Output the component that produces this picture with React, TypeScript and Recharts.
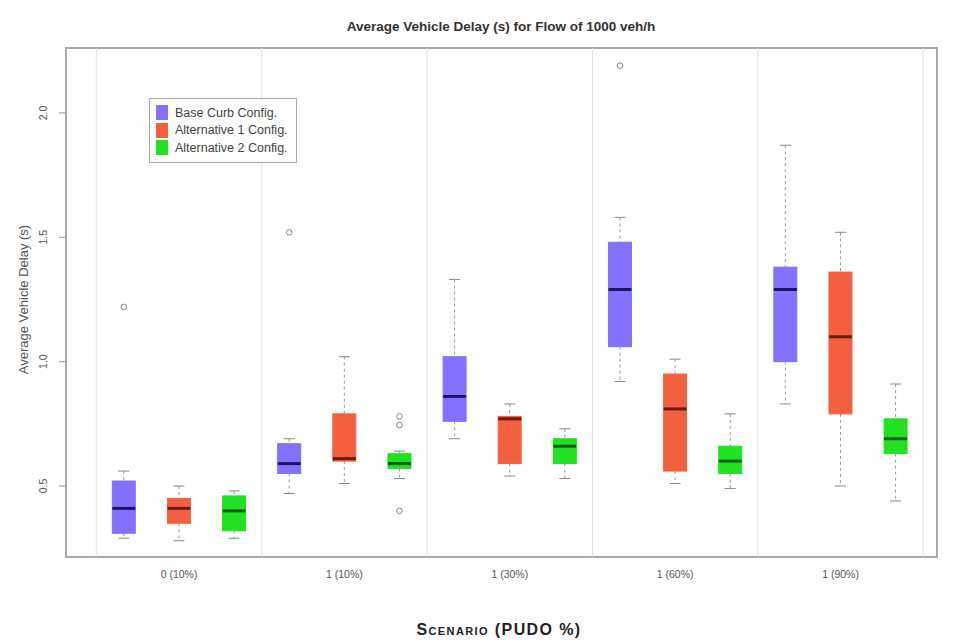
import React from 'react';
import { ComposedChart, Bar, XAxis, YAxis, ReferenceLine, ReferenceArea, Legend } from 'recharts';

const scenarios = ['0 (10%)', '1 (10%)', '1 (30%)', '1 (60%)', '1 (90%)'];
const configs = ['Base Curb Config.', 'Alternative 1 Config.', 'Alternative 2 Config.'];
const fills = ['#8470FF', '#F4603F', '#22E022'];
const medianColors = ['#1B1466', '#6E1A0C', '#0B5A0B'];

// [lower whisker, Q1, median, Q3, upper whisker] per scenario
const baseStats = [
    [0.29, 0.31, 0.41, 0.52, 0.56],
    [0.47, 0.55, 0.59, 0.67, 0.69],
    [0.69, 0.76, 0.86, 1.02, 1.33],
    [0.92, 1.06, 1.29, 1.48, 1.58],
    [0.83, 1.0, 1.29, 1.38, 1.87],
];
const alt1Stats = [
    [0.28, 0.35, 0.41, 0.45, 0.5],
    [0.51, 0.6, 0.61, 0.79, 1.02],
    [0.54, 0.59, 0.77, 0.78, 0.83],
    [0.51, 0.56, 0.81, 0.95, 1.01],
    [0.5, 0.79, 1.1, 1.36, 1.52],
];
const alt2Stats = [
    [0.29, 0.32, 0.4, 0.46, 0.48],
    [0.53, 0.57, 0.59, 0.63, 0.64],
    [0.53, 0.59, 0.66, 0.69, 0.73],
    [0.49, 0.55, 0.6, 0.66, 0.79],
    [0.44, 0.63, 0.69, 0.77, 0.91],
];

const baseOutliers = [[1.22], [1.52], [], [2.19], []];
const alt1Outliers = [[], [], [], [], []];
const alt2Outliers = [[], [0.78, 0.745, 0.4], [], [], []];

const yTicks = [0.5, 1.0, 1.5, 2.0];
const xDomain = [-0.05, 15.75];
const yDomain = [0.2145, 2.261];

const allStats = [baseStats, alt1Stats, alt2Stats];
const allOutliers = [baseOutliers, alt1Outliers, alt2Outliers];

const rows = scenarios.flatMap((s, i) =>
    configs.map((c, j) => {
        const [lo, q1, med, q3, hi] = allStats[j][i];
        return { pos: i * 3 + j + 1, cfg: j, lo, q1, med, q3, hi, out: allOutliers[j][i] };
    })
);

const groupCenters = scenarios.map((_, i) => i * 3 + 2);
const groupEdges = [...scenarios.map((_, i) => i * 3 + 0.5), scenarios.length * 3 + 0.5];

const BoxShape = (props: any) => {
    const { x, y, width, height, payload } = props;
    const top = Math.min(y, y + height);
    const bottom = Math.max(y, y + height);
    const py = (v: number) => bottom - ((v - payload.lo) / (payload.hi - payload.lo)) * (bottom - top);
    const cx = x + width / 2;
    const cap = 5.5;
    return (
        <g>
            <line x1={cx} x2={cx} y1={py(payload.hi)} y2={py(payload.q3)} stroke="#999" strokeDasharray="3 3" />
            <line x1={cx} x2={cx} y1={py(payload.q1)} y2={py(payload.lo)} stroke="#999" strokeDasharray="3 3" />
            <line x1={cx - cap} x2={cx + cap} y1={py(payload.hi)} y2={py(payload.hi)} stroke="#888" />
            <line x1={cx - cap} x2={cx + cap} y1={py(payload.lo)} y2={py(payload.lo)} stroke="#888" />
            <rect
                x={x}
                y={py(payload.q3)}
                width={width}
                height={py(payload.q1) - py(payload.q3)}
                fill={fills[payload.cfg]}
                stroke={fills[payload.cfg]}
            />
            <line x1={x} x2={x + width} y1={py(payload.med)} y2={py(payload.med)} stroke={medianColors[payload.cfg]} strokeWidth={3} />
            {payload.out.map((v: number, k: number) => (
                <circle key={k} cx={cx} cy={py(v)} r={2.8} fill="none" stroke="#888" strokeWidth={1} />
            ))}
        </g>
    );
};

const YTick = (props: any) => {
    const { x, y, payload } = props;
    const tx = x - 14;
    return (
        <text x={tx} y={y} transform={`rotate(-90, ${tx}, ${y})`} textAnchor="middle" dominantBaseline="central" fontSize={10.5} fill="#555" fontFamily="Liberation Sans, Arial, sans-serif">
            {payload.value.toFixed(1)}
        </text>
    );
};

const renderLegend = () => (
    <div style={{ border: '1px solid #aaa', padding: '5px 8px 5px 6px', background: '#fff', fontFamily: 'Liberation Sans, Arial, sans-serif', fontSize: 12.5, color: '#444' }}>
        {configs.map((c, i) => (
            <div key={c} style={{ display: 'flex', alignItems: 'center', height: 17.5 }}>
                <span style={{ width: 12, height: 15, background: fills[i], marginRight: 7, display: 'inline-block' }} />
                {c}
            </div>
        ))}
    </div>
);

export default function App() {
    return (
        <div style={{ position: 'absolute', left: 0, top: 0, width: 957, height: 644, background: '#fff', fontFamily: 'Liberation Sans, Arial, sans-serif' }}>
            <div style={{ position: 'absolute', left: 0, top: 19, width: 1002, textAlign: 'center', fontSize: 13.5, fontWeight: 'bold', color: '#333' }}>
                Average Vehicle Delay (s) for Flow of 1000 veh/h
            </div>
            <div style={{ position: 'absolute', left: 23 - 150, top: 300 - 8, width: 300, textAlign: 'center', fontSize: 13, color: '#555', transform: 'rotate(-90deg)' }}>
                Average Vehicle Delay (s)
            </div>
            <div style={{ position: 'absolute', left: 0, top: 621, width: 998, textAlign: 'center', fontSize: 16, letterSpacing: 1.4, fontWeight: 'bold', fontVariant: 'small-caps', color: '#222' }}>
                Scenario (PUDO %)
            </div>
            <ComposedChart width={957} height={644} data={rows} margin={{ top: 48, right: 20, bottom: 57, left: 26 }} style={{ position: 'absolute', left: 0, top: 0 }}>
                <XAxis
                    dataKey="pos"
                    type="number"
                    domain={xDomain}
                    allowDataOverflow
                    ticks={groupCenters}
                    tickFormatter={(v: number) => scenarios[(v - 2) / 3]}
                    axisLine={false}
                    tickLine={false}
                    tickSize={0}
                    tickMargin={14}
                    height={30}
                    tick={{ fontSize: 10.5, fill: '#555' }}
                />
                <YAxis
                    type="number"
                    domain={yDomain}
                    allowDataOverflow
                    ticks={yTicks}
                    width={40}
                    axisLine={false}
                    tickLine={{ stroke: '#999' }}
                    tickSize={7}
                    tick={<YTick />}
                />
                {groupEdges.map((e) => (
                    <ReferenceLine key={e} x={e} stroke="#e2e2e2" strokeWidth={1} />
                ))}
                <ReferenceArea x1={xDomain[0]} x2={xDomain[1]} y1={yDomain[0]} y2={yDomain[1]} fill="none" stroke="#aaa" strokeWidth={2} ifOverflow="visible" />
                <Bar dataKey={(d: any) => [d.lo, d.hi]} barSize={23} shape={<BoxShape />} isAnimationActive={false} />
                <Legend layout="vertical" align="center" verticalAlign="middle" content={renderLegend} wrapperStyle={{ left: 149, top: 98, width: 'auto' }} />
            </ComposedChart>
        </div>
    );
}
